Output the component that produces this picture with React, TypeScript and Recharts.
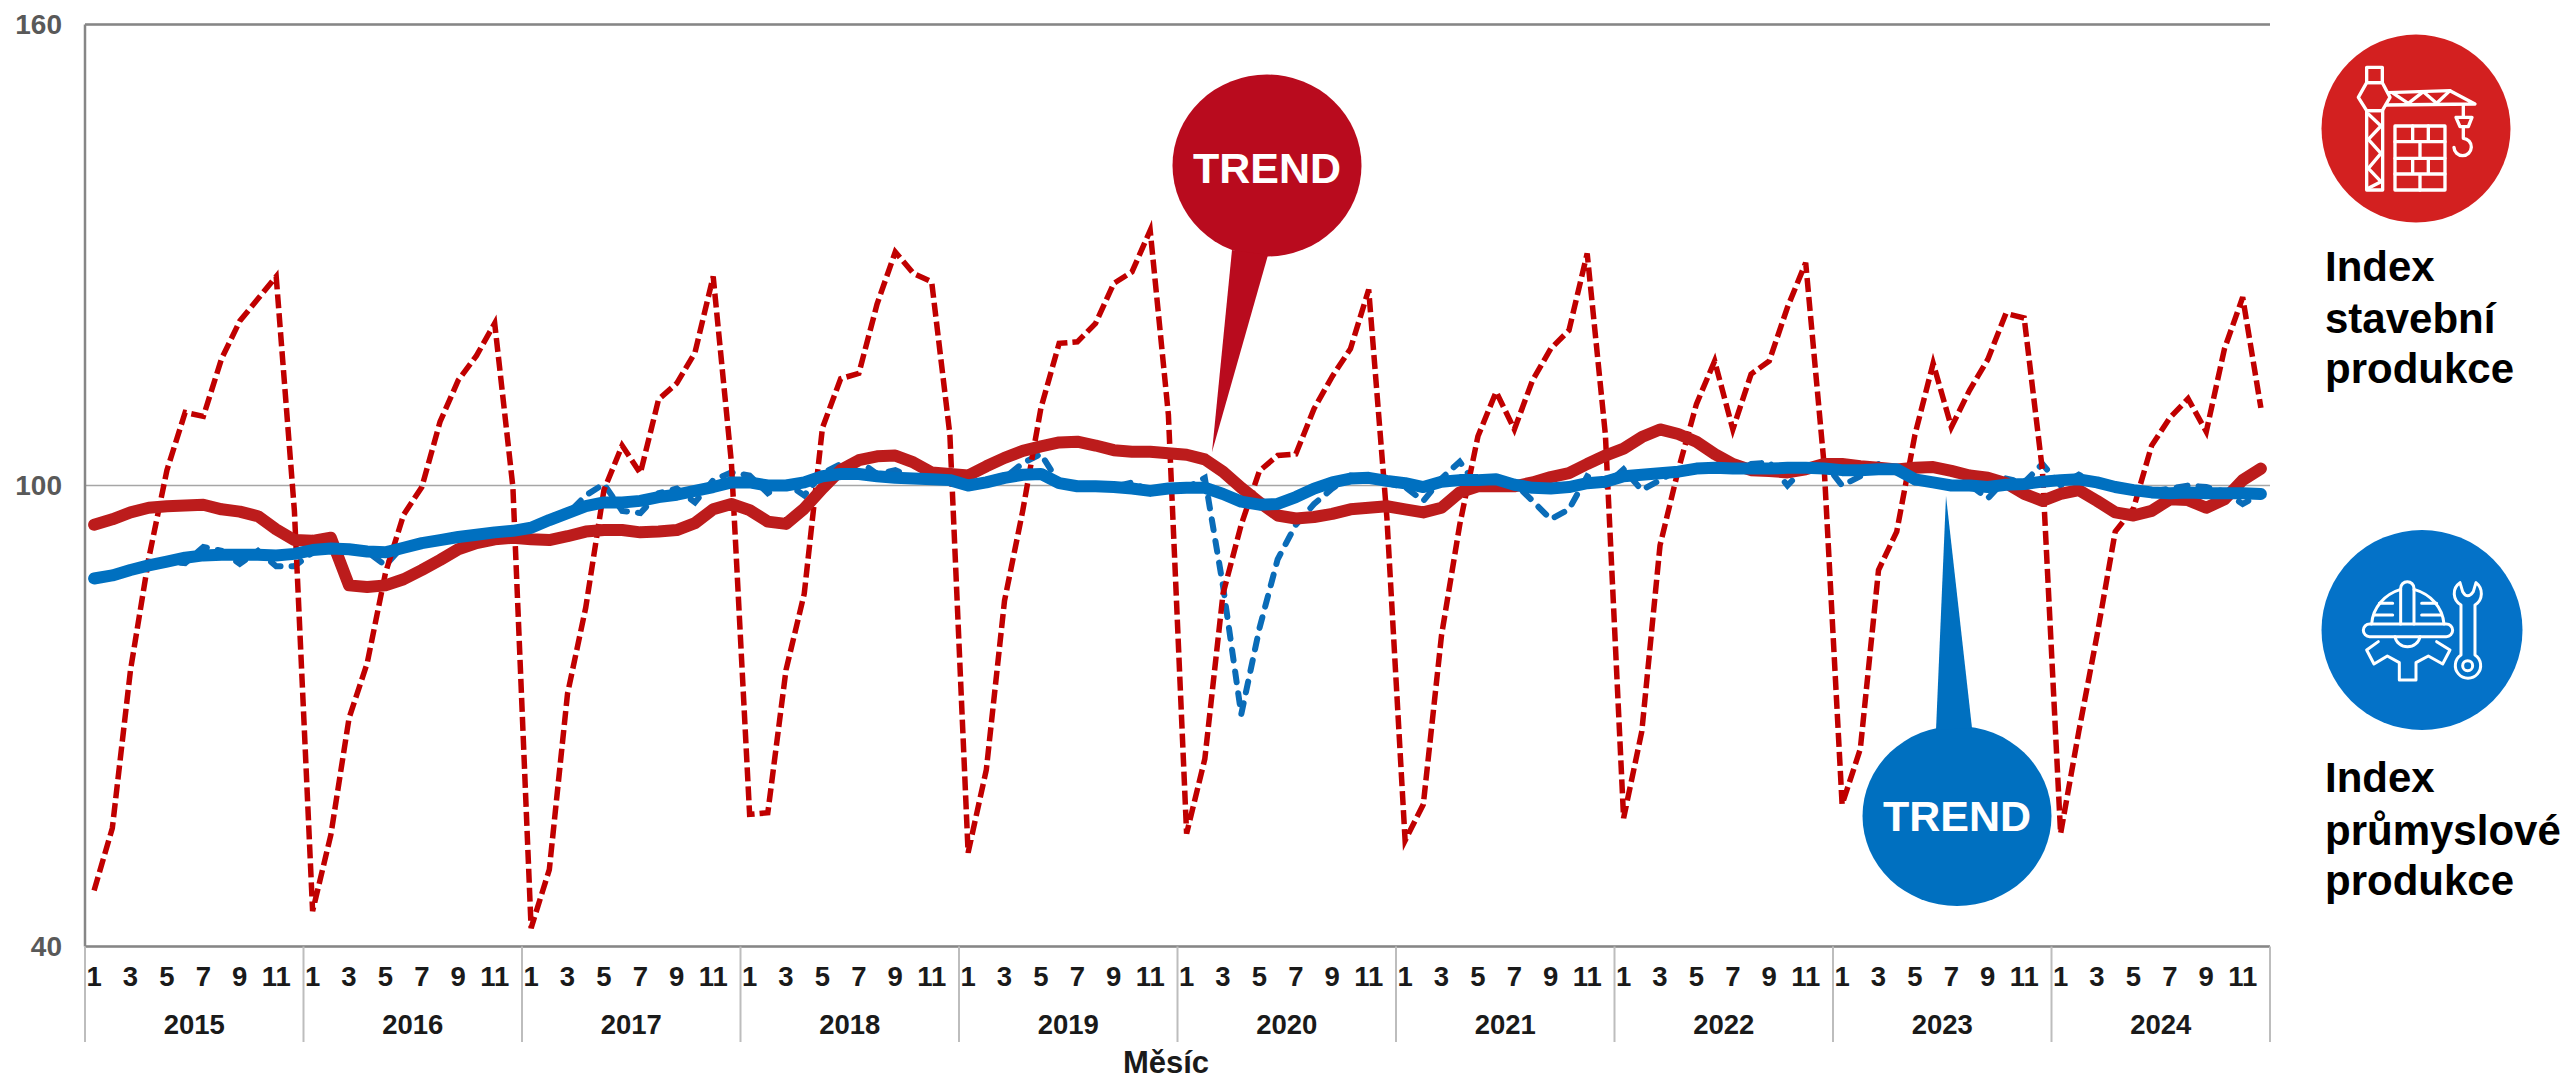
import { LineChart, Line, XAxis, YAxis, CartesianGrid, ReferenceLine } from "recharts";

const years = [2015, 2016, 2017, 2018, 2019, 2020, 2021, 2022, 2023, 2024];
const months = [1, 2, 3, 4, 5, 6, 7, 8, 9, 10, 11, 12];

// index stavebni produkce
const constructionIndex = [
  47.3, 55.4, 76, 90.5, 102, 109.5, 109, 116.5, 121.4, 124.3, 127.2, 96.7,
  44.6, 54.5, 69.7, 76.9, 88.6, 96.2, 99.8, 108.3, 113.7, 116.9, 121.1, 99.8,
  42.4, 50, 72.9, 84.1, 99.4, 105.2, 101.6, 111.2, 113.3, 117.3, 127.2, 103,
  57.2, 57.4, 76, 85.9, 107.5, 113.9, 114.6, 123.6, 130.4, 127.6, 126.5, 106.6,
  52.2, 63, 85, 96.7, 110.1, 118.5, 118.7, 121.1, 126.3, 127.8, 133.2, 109.2,
  54.7, 64.4, 85.9, 94.9, 101.9, 103.9, 104.1, 110, 114.2, 117.8, 125.5, 95.8,
  53.8, 58.5, 80.5, 94.9, 106.4, 112.2, 107.3, 113.7, 117.8, 120.2, 130.2, 106.6,
  56.7, 68, 92.2, 102, 110.6, 116.2, 107.3, 114.5, 116.2, 123.2, 129, 103,
  58.5, 65.7, 89, 94, 106.6, 115.9, 107.6, 112.4, 116.4, 122.4, 121.8, 102,
  54.7, 68, 80.5, 94, 97, 105.2, 108.8, 111.3, 107, 117.8, 124.5, 110.1,
];

const constructionTrend = [
  94.9, 95.6, 96.5, 97.1, 97.3, 97.4, 97.5, 96.9, 96.6, 96, 94.3, 92.9,
  92.8, 93.2, 87, 86.8, 87, 87.8, 89, 90.3, 91.7, 92.5, 93, 93.2,
  93, 92.9, 93.4, 94, 94.2, 94.2, 93.9, 94, 94.2, 95.1, 96.9, 97.6,
  96.8, 95.3, 95, 97, 99.6, 102, 103.3, 103.8, 103.9, 103, 101.7, 101.5,
  101.3, 102.5, 103.6, 104.5, 105.1, 105.6, 105.7, 105.2, 104.6, 104.4, 104.4, 104.2,
  104, 103.4, 101.8, 99.7, 97.8, 96.1, 95.7, 95.9, 96.3, 96.9, 97.1, 97.3,
  96.9, 96.5, 97.1, 99.1, 99.9, 99.9, 99.9, 100.4, 101.1, 101.6, 102.8, 103.9,
  104.8, 106.3, 107.3, 106.7, 105.7, 104.1, 102.8, 102, 101.9, 101.7, 102.1, 102.8,
  102.8, 102.5, 102.3, 102.1, 102.3, 102.4, 101.9, 101.3, 101, 100.3, 98.9, 98,
  98.9, 99.4, 98, 96.5, 96.1, 96.7, 98.2, 98.1, 97.1, 98.2, 100.7, 102.2,
];

// index prumyslove produkce
const industryIndex = [
  87.9, 88.4, 89, 89.6, 90.1, 89.9, 92, 91.5, 89.8, 91.5, 89.5, 89.5,
  91.3, 91.9, 91.7, 91.4, 89.6, 92.2, 92.2, 92.9, 93, 93.5, 93.8, 94,
  94.5, 96, 96.3, 98.7, 100.2, 96.7, 96.4, 99, 99.6, 97.8, 100.7, 101.7,
  101.3, 99, 100.3, 98.7, 101.6, 102.8, 103.2, 101.5, 102, 101, 101, 102,
  100.2, 100.3, 101, 102.9, 104.1, 100.3, 99.9, 99.8, 99.8, 100.4, 99.3, 99.6,
  99.7, 101, 86.9, 70.2, 81.4, 90.4, 94.9, 97.6, 99.6, 101.3, 101, 100.3,
  99.8, 98, 100.9, 103.1, 99.8, 99.8, 100.3, 98, 95.6, 96.9, 101.2, 100,
  102.1, 99.4, 100.7, 102.1, 102.2, 102.5, 102, 102.8, 103, 100, 102.5, 103,
  100, 101.2, 102.8, 102.1, 100.4, 100.3, 100, 100.1, 98.3, 100.9, 100.4, 102.8,
  100, 101.4, 100.3, 99.9, 99.4, 99.2, 99.6, 100, 99.8, 99.2, 97.6, 98.9,
];

const industryTrend = [
  87.9, 88.3, 89, 89.6, 90.1, 90.6, 90.9, 91, 91, 91, 90.9, 91.1,
  91.6, 91.8, 91.7, 91.4, 91.3, 91.9, 92.5, 92.9, 93.3, 93.6, 93.9, 94.1,
  94.5, 95.5, 96.4, 97.3, 97.8, 97.8, 98, 98.5, 98.8, 99.3, 99.8, 100.4,
  100.4, 100, 100, 100.4, 101.2, 101.5, 101.5, 101.2, 101, 100.9, 100.8, 100.7,
  100, 100.4, 101, 101.4, 101.5, 100.3, 99.9, 99.9, 99.8, 99.6, 99.3, 99.6,
  99.7, 99.7, 98.9, 97.9, 97.5, 97.6, 98.5, 99.6, 100.4, 100.9, 101, 100.6,
  100.3, 99.8, 100.5, 100.7, 100.7, 100.8, 100.1, 99.7, 99.6, 99.8, 100.3, 100.5,
  101.2, 101.4, 101.6, 101.8, 102.2, 102.3, 102.2, 102.2, 102.2, 102.3, 102.3, 102.2,
  102, 102, 102.1, 102.1, 100.8, 100.4, 100, 100, 99.8, 100.1, 100.2, 100.5,
  100.7, 100.8, 100.4, 99.8, 99.4, 99.1, 99, 99.1, 99, 99, 99, 98.9,
];

const yTicks = [40, 100, 160];

const data = years.flatMap((year, y) =>
  months.map((month, m) => ({
    key: `${year}-${month}`,
    construction: constructionIndex[y * 12 + m],
    constructionTrend: constructionTrend[y * 12 + m],
    industry: industryIndex[y * 12 + m],
    industryTrend: industryTrend[y * 12 + m],
  }))
);

const monthTicks = data.map((d) => d.key).filter((k) => Number(k.split("-")[1]) % 2 === 1);
const yearTicks = years.map((year) => `${year}-1`);

const FONT = "'Liberation Sans', Arial, sans-serif";
const PLOT_LEFT = 85;
const PLOT_RIGHT = 2270;
const PLOT_TOP = 24.5;
const PLOT_BOTTOM = 946.5;
const BAND = (PLOT_RIGHT - PLOT_LEFT) / data.length;

function YearTick({ x, payload }: any) {
  const year = payload.value.split("-")[0];
  const left = x - BAND / 2;
  const isLast = year === String(years[years.length - 1]);
  return (
    <g>
      <line x1={left} x2={left} y1={PLOT_BOTTOM} y2={1042} stroke="#bdbdbd" strokeWidth={2} />
      {isLast && <line x1={PLOT_RIGHT} x2={PLOT_RIGHT} y1={PLOT_BOTTOM} y2={1042} stroke="#bdbdbd" strokeWidth={2} />}
      <text x={left + BAND * 6} y={1034} textAnchor="middle" fontFamily={FONT} fontWeight="bold" fontSize={27.5} fill="#1a1a1a">
        {year}
      </text>
    </g>
  );
}

function Callouts() {
  return (
    <svg width={2568} height={1081} style={{ position: "absolute", left: 0, top: 0, pointerEvents: "none" }}>
      <ellipse cx={1267} cy={165.5} rx={94.5} ry={91} fill="#b90b1e" />
      <polygon points="1232,250 1268,255 1212,452" fill="#b90b1e" />
      <text x={1267} y={183} textAnchor="middle" fontFamily={FONT} fontWeight="bold" fontSize={43} fill="#fff">TREND</text>

      <ellipse cx={1957} cy={816} rx={94.5} ry={90} fill="#0070c0" />
      <polygon points="1936,730 1972,728 1946,496" fill="#0070c0" />
      <text x={1957} y={831} textAnchor="middle" fontFamily={FONT} fontWeight="bold" fontSize={43} fill="#fff">TREND</text>

      <ellipse cx={2416} cy={128.6} rx={94.5} ry={94} fill="#d32020" />
      <g transform="translate(2300,40) scale(0.3333)" fill="none" stroke="#fff" strokeWidth={10} strokeLinejoin="round" strokeLinecap="round">
        <rect x={200} y={82} width={47} height={46} />
        <polygon points="175,172 200,128 247,128 270,172 247,212 200,212" />
        <rect x={200} y={212} width={48} height={238} />
        <polyline points="205,222 243,258 205,298 243,340 205,385 243,425 205,445" />
        <polyline points="265,158 450,152 525,192 258,195" />
        <polyline points="280,160 325,190 370,155 410,190 450,152" />
        <polyline points="490,195 490,232" />
        <polygon points="468,232 516,232 505,260 480,260" />
        <path d="M490,260 L490,295 A26,26 0 1 1 462,322" />
        <rect x={285} y={258} width={150} height={192} />
        <path d="M285,305 H435 M285,355 H435 M285,402 H435 M338,258 V305 M385,258 V305 M360,305 V355 M338,355 V402 M385,355 V402 M360,402 V450" />
      </g>
      <text fontFamily={FONT} fontWeight="bold" fontSize={42} fill="#000">
        <tspan x={2325} y={281}>Index</tspan>
        <tspan x={2325} y={333}>stavební</tspan>
        <tspan x={2325} y={383}>produkce</tspan>
      </text>

      <ellipse cx={2422} cy={630} rx={100.5} ry={100} fill="#0472c8" />
      <g transform="translate(2300,520) scale(0.3333)" fill="none" stroke="#fff" strokeWidth={9} strokeLinejoin="round" strokeLinecap="round">
        <rect x={190} y={312} width={268} height={38} rx={19} />
        <path d="M215,312 C218,262 255,222 302,208 M342,208 C392,222 428,262 432,312" />
        <path d="M302,312 V205 A20,20 0 0 1 342,205 V312" />
        <path d="M222,285 H278 M238,250 H278 M365,285 H425 M365,250 H410" />
        <path d="M285,350 A38,36 0 0 0 360,350" />
        <polyline points="235,365 200,390 222,432 262,408 298,428 298,480 348,480 348,428 385,408 428,432 450,390 410,365" />
        <path d="M480,188 C455,205 458,240 483,255 L483,405 A38,38 0 1 0 525,405 L525,255 C550,240 550,205 528,188 L520,215 Q503,240 488,215 Z" />
        <circle cx={503} cy={437} r={15} />
      </g>
      <text fontFamily={FONT} fontWeight="bold" fontSize={42} fill="#000">
        <tspan x={2325} y={792}>Index</tspan>
        <tspan x={2325} y={845}>průmyslové</tspan>
        <tspan x={2325} y={895}>produkce</tspan>
      </text>

      <text x={1166} y={1073} textAnchor="middle" fontFamily={FONT} fontWeight="bold" fontSize={31} fill="#1a1a1a">Měsíc</text>
    </svg>
  );
}

export default function App() {
  return (
    <div style={{ position: "absolute", left: 0, top: 0, width: 2568, height: 1081, background: "#fff", overflow: "hidden" }}>
      <LineChart
        width={2568}
        height={1081}
        data={data}
        margin={{ top: PLOT_TOP, right: 2568 - PLOT_RIGHT, bottom: 0, left: 0 }}
      >
        <CartesianGrid vertical={false} stroke="#a6a6a6" strokeWidth={1.5} />
        <XAxis
          dataKey="key"
          xAxisId={0}
          height={50}
          ticks={monthTicks}
          interval={0}
          padding={{ left: BAND / 2, right: BAND / 2 }}
          tickLine={false}
          tickMargin={14}
          axisLine={{ stroke: "#868686", strokeWidth: 2.5 }}
          tickFormatter={(k: string) => k.split("-")[1]}
          tick={{ fontFamily: FONT, fontWeight: "bold", fontSize: 27.5, fill: "#1a1a1a" }}
        />
        <XAxis
          dataKey="key"
          xAxisId={1}
          height={84.5}
          ticks={yearTicks}
          interval={0}
          padding={{ left: BAND / 2, right: BAND / 2 }}
          tickLine={false}
          axisLine={false}
          tick={<YearTick />}
        />
        <YAxis
          width={PLOT_LEFT}
          domain={[40, 160]}
          ticks={yTicks}
          interval={0}
          tickLine={false}
          tickMargin={17}
          axisLine={{ stroke: "#868686", strokeWidth: 2.5 }}
          tick={{ fontFamily: FONT, fontWeight: "bold", fontSize: 28, fill: "#595959" }}
        />
        <YAxis
          yAxisId="right"
          orientation="right"
          width={0}
          domain={[40, 160]}
          tick={false}
          tickLine={false}
          axisLine={{ stroke: "#868686", strokeWidth: 2.5 }}
        />
        <ReferenceLine y={160} stroke="#868686" strokeWidth={2.5} />
        <Line dataKey="industry" stroke="#0a6cb8" strokeWidth={6} strokeDasharray="11 11" strokeLinecap="round" dot={false} isAnimationActive={false} />
        <Line dataKey="construction" stroke="#c00000" strokeWidth={5.5} strokeDasharray="14 5" dot={false} isAnimationActive={false} />
        <Line dataKey="constructionTrend" stroke="#bc1c1c" strokeWidth={12} strokeLinecap="round" strokeLinejoin="round" dot={false} isAnimationActive={false} />
        <Line dataKey="industryTrend" stroke="#0070c0" strokeWidth={12} strokeLinecap="round" strokeLinejoin="round" dot={false} isAnimationActive={false} />
      </LineChart>
      <Callouts />
    </div>
  );
}
